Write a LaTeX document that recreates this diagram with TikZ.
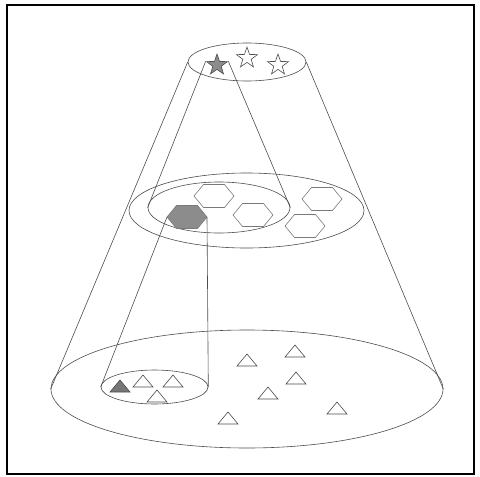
\documentclass[tikz,border=0pt]{standalone}
\usepackage{tikz}
\usetikzlibrary{shapes.geometric}
\definecolor{lineGray}{HTML}{4D4D4D}
\definecolor{shapeGray}{HTML}{7A7A7A}
\definecolor{fillGray}{HTML}{8C8C8C}

% flat hexagon centred on (#2,#3)
\newcommand{\drawhex}[3][]{%
    \draw[hexa, #1] (#2,#3) +(-20,0) -- +(-10.5,-11.5) -- +(10.5,-11.5)
        -- +(20,0) -- +(10.5,11.5) -- +(-10.5,11.5) -- cycle;}
% small triangle centred on (#2,#3)
\newcommand{\drawtri}[3][]{%
    \draw[tri, #1] (#2,#3) +(-10,6) -- +(0,-6) -- +(10,6) -- cycle;}

\begin{document}
\begin{tikzpicture}[x=1pt, y=-1pt, line width=0.6pt,
    level/.style={ellipse, draw=lineGray, inner sep=0pt},
    starnode/.style={star, star points=5, star point ratio=2.5, minimum size=22pt,
        inner sep=0pt, draw=lineGray},
    hexa/.style={draw=shapeGray},
    tri/.style={draw=lineGray}]
    \fill[white] (0,0) rectangle (480,477);
    \draw[line width=2pt] (7,5) rectangle (474,474);

    % the three levels
    \node[level, minimum width=118pt, minimum height=38pt] (top) at (247,62) {};
    \node[level, minimum width=235pt, minimum height=75pt] (mid) at (246.5,210.5) {};
    \node[level, minimum width=142pt, minimum height=51pt] (midin) at (219,207.5) {};
    \node[level, minimum width=392pt, minimum height=118pt] (bot) at (247,389) {};
    \node[level, minimum width=107pt, minimum height=34pt] (botin) at (154.5,387) {};

    \draw[lineGray] (top.west) -- (bot.west);
    \draw[lineGray] (top.east) -- (bot.east);

    \node[starnode, fill=fillGray] (star1) at (217,65) {};
    \node[starnode] (star2) at (247,58) {};
    \node[starnode] (star3) at (278,65) {};

    \draw[lineGray] (star1.outer point 2) -- (midin.west);
    \draw[lineGray] (star1.outer point 5) -- (midin.east);

    \drawhex[fill=fillGray]{187}{217}
    \drawhex{214}{196}
    \drawhex{253}{215}
    \drawhex{322}{199}
    \drawhex{305}{226}
    \coordinate (hexL) at (167,217);
    \coordinate (hexR) at (207,217);

    \draw[lineGray] (hexL) -- (botin.west);
    \draw[lineGray] (hexR) -- (botin.east);

    \drawtri[fill=fillGray!85!black]{120}{386}
    \foreach \tx/\ty in {143/381, 173/381, 157/396, 247/360, 295/351,
        296/378, 268/393, 337/408, 228/418}
        \drawtri{\tx}{\ty};
\end{tikzpicture}
\end{document}
